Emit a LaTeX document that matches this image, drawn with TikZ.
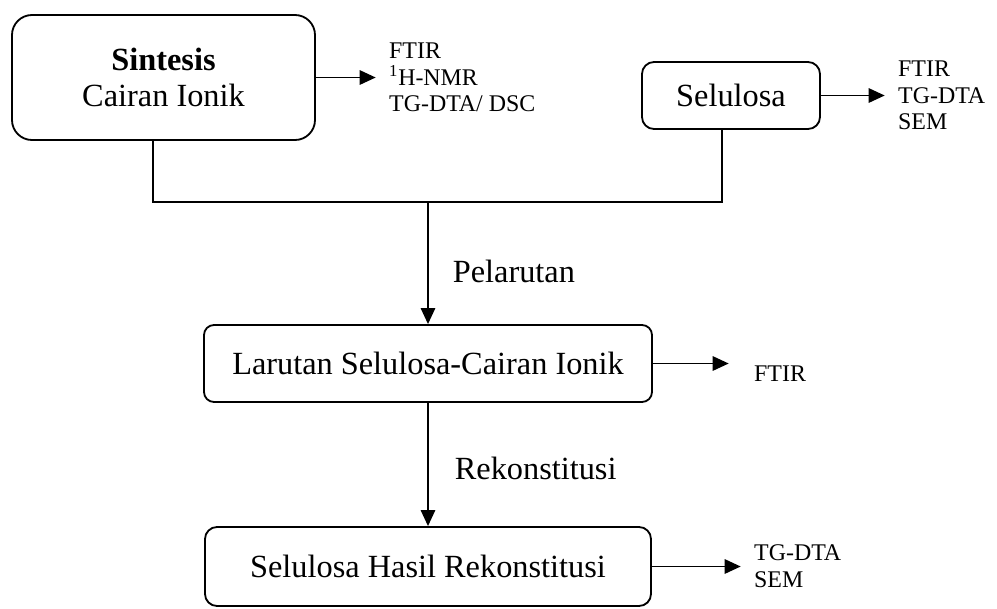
\documentclass[tikz,border=0pt]{standalone}
\usepackage{fontspec}
\setmainfont{Liberation Serif}
\usepackage{tikz}
\usetikzlibrary{arrows.meta, positioning, calc}
\tikzset{
  proses/.style={
    rectangle, draw=black, line width=1.3pt, rounded corners=#1,
    align=center, font=\fontsize{23}{25}\selectfont, inner sep=0pt
  },
  uji/.style={align=left, inner sep=0pt, font=\fontsize{17}{19}\selectfont},
  panah/.style={-{Triangle[length=0.4cm, width=0.36cm]}, line width=1.2pt},
  garis/.style={line width=1.2pt}
}

\begin{document}
\begin{tikzpicture}[lbl/.style={inner sep=0pt, font=\fontsize{23}{25}\selectfont}]
  \useasboundingbox (0,0) rectangle (24.925,-15.2);

  % kotak proses
  \node[proses=0.5cm, minimum width=7.575cm, minimum height=3.125cm]
    (sintesis) at (4.0875,-1.9375) {\textbf{Sintesis}\\Cairan Ionik};
  \node[proses=0.3cm, minimum width=4.45cm, minimum height=1.675cm]
    (selulosa) at (18.275,-2.3875) {Selulosa};
  \node[proses=0.25cm, minimum width=11.2cm, minimum height=1.925cm]
    (larutan) at (10.7,-9.0875) {Larutan Selulosa-Cairan Ionik};
  \node[proses=0.3cm, minimum width=11.15cm, minimum height=1.975cm]
    (hasil) at (10.7,-14.1625) {Selulosa Hasil Rekonstitusi};

  % karakterisasi
  \node[uji, anchor=west, right=1.825cm of sintesis.east] (sintesisUji)
    {FTIR\\\textsuperscript{1}H-NMR\\TG-DTA/ DSC};
  \node[uji, anchor=west, right=1.925cm of selulosa.east] (selulosaUji)
    {FTIR\\TG-DTA\\SEM};
  \node[uji, anchor=west, right=2.525cm of larutan.east, yshift=-0.25cm] (larutanUji)
    {FTIR};
  \node[uji, anchor=west, right=2.55cm of hasil.east] (hasilUji)
    {TG-DTA\\SEM};

  \foreach \f in {sintesis,selulosa,hasil}
    \draw[panah, shorten >=0.33cm] (\f.east) -- (\f Uji.west);
  \draw[panah, shorten >=0.63cm] (larutan.east) -- (larutan.east -| larutanUji.west);

  % penggabungan
  \coordinate (gabung) at (10.7,-5.05);
  \draw[garis] ([xshift=-0.2625cm]sintesis.south) |- (gabung)
    -| ([xshift=-0.225cm]selulosa.south);
  \draw[panah] (gabung) -- node[lbl, pos=0.57, right=0.6cm] {Pelarutan} (larutan.north);
  \draw[panah] (larutan.south) -- node[lbl, pos=0.53, right=0.65cm] {Rekonstitusi} (hasil.north);
\end{tikzpicture}
\end{document}
